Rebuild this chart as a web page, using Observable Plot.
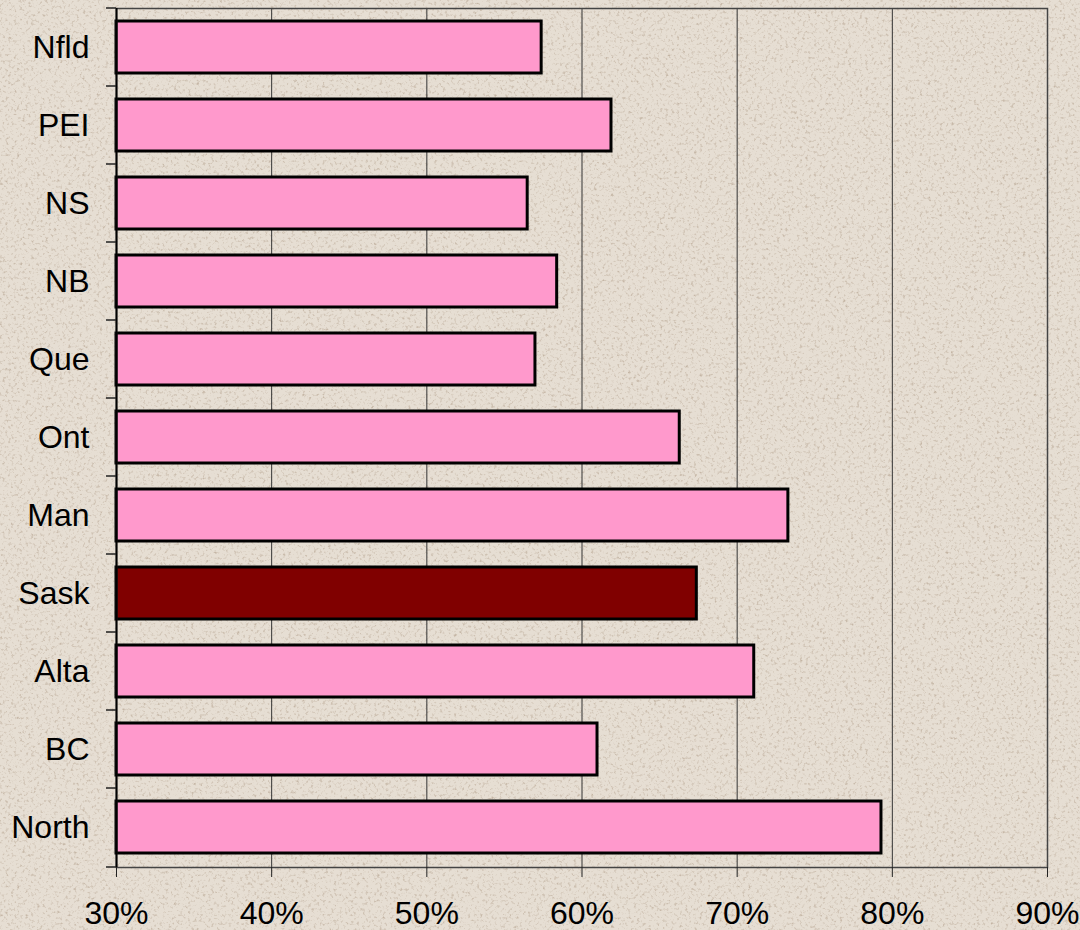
<!DOCTYPE html>
<html><head><meta charset="utf-8">
<script src="https://cdn.jsdelivr.net/npm/d3@7"></script>
<script src="https://cdn.jsdelivr.net/npm/@observablehq/plot@0.6"></script>
<style>
html,body{margin:0;padding:0;width:1080px;height:930px;overflow:hidden;}
body{
  background-color:#e6ded3;
  background-image:url("data:image/svg+xml,%3Csvg xmlns='http://www.w3.org/2000/svg' width='1080' height='930'%3E%3Cfilter id='n'%3E%3CfeTurbulence type='fractalNoise' baseFrequency='0.35' numOctaves='3' seed='7'/%3E%3CfeColorMatrix values='0 0 0 0 0.55 0 0 0 0 0.46 0 0 0 0 0.37 2.8 0 0 0 -1.5'/%3E%3C/filter%3E%3Crect width='100%25' height='100%25' filter='url(%23n)'/%3E%3C/svg%3E");
  font-family:"Liberation Sans", Arial, sans-serif;
}
#chart svg{background:transparent;}
</style>
</head><body><div id="chart"></div>
<script>
const provinces = ["Nfld","PEI","NS","NB","Que","Ont","Man","Sask","Alta","BC","North"];
const shares = [0.574, 0.619, 0.565, 0.584, 0.570, 0.663, 0.733, 0.674, 0.711, 0.610, 0.793];
const highlight = "Sask";
const xDomain = [0.3, 0.9];
const xTicks = [0.3, 0.4, 0.5, 0.6, 0.7, 0.8, 0.9];

const rows = provinces.map((p, i) => ({province: p, share: shares[i]}));

function yBoundaryTicks(index, scales, values, dims) {
  const g = d3.create("svg:g");
  const off = scales.y(provinces[0]) - dims.marginTop;
  const ys = provinces.map(p => scales.y(p) - off);
  ys.push(dims.height - dims.marginBottom);
  const x0 = dims.marginLeft;
  for (const y of ys) {
    g.append("line").attr("x1", x0 - 10).attr("x2", x0).attr("y1", y).attr("y2", y)
      .attr("stroke", "#222").attr("stroke-width", 1.5);
  }
  return g.node();
}

const chart = Plot.plot({
  width: 1080,
  height: 930,
  marginTop: 8,
  marginRight: 33,
  marginBottom: 63,
  marginLeft: 116,
  style: {fontFamily: "'Liberation Sans', Arial, sans-serif", color: "black", background: "transparent", overflow: "visible"},
  x: {domain: xDomain},
  y: {type: "band", domain: provinces, paddingInner: 0.33, paddingOuter: 0.165, align: 0.5},
  color: {type: "identity"},
  marks: [
    Plot.ruleX(xTicks, {stroke: "#333", strokeWidth: 1}),
    Plot.barX(rows, {
      y: "province",
      x1: xDomain[0],
      x2: "share",
      fill: d => d.province === highlight ? "#800000" : "#ff99cc",
      stroke: "black",
      strokeWidth: 3
    }),
    Plot.frame({stroke: "#444", strokeWidth: 1.5}),
    Plot.ruleX([xDomain[0]], {stroke: "black", strokeWidth: 2}),
    Plot.axisX({ticks: xTicks, tickFormat: d3.format(".0%"), tickSize: 10, tickPadding: 24, fontSize: 32, label: null, stroke: "#222"}),
    Plot.axisY({tickSize: 0, tickPadding: 27, fontSize: 32, label: null}),
    yBoundaryTicks
  ]
});
document.getElementById("chart").appendChild(chart);
</script>
</body></html>
